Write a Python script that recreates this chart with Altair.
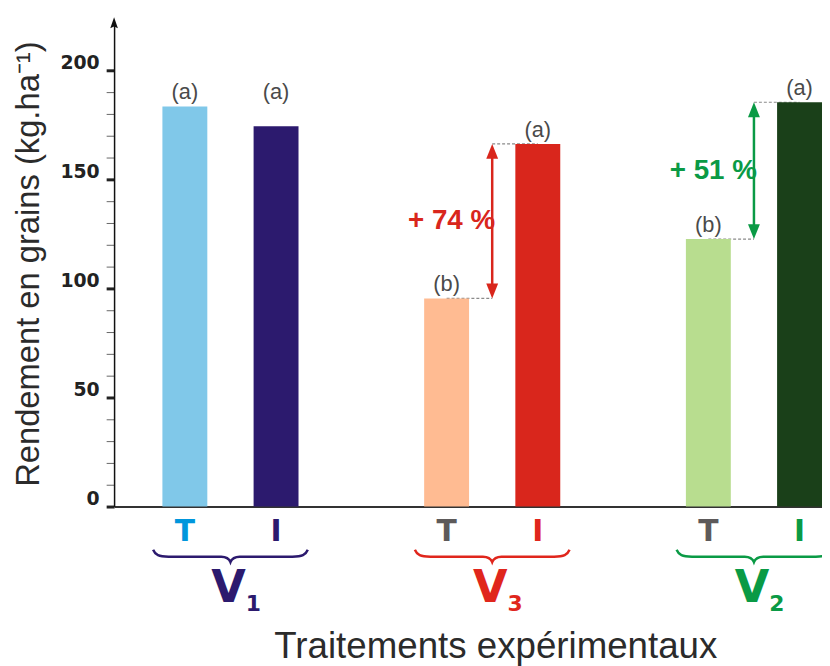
import altair as alt
import pandas as pd

# ---- data ----
groups = ["V1", "V1", "V3", "V3", "V2", "V2"]
treatments = ["T", "I", "T", "I", "T", "I"]
yields = [183.6, 174.5, 95.5, 166.4, 122.7, 185.5]
letters = ["(a)", "(a)", "(b)", "(a)", "(b)", "(a)"]
letter_levels = [183.6, 183.6, 95.5, 166.4, 122.7, 185.5]
bar_colors = ["#80c8e9", "#2c1a6e", "#ffbb92", "#d9261c", "#b8dd8f", "#1a4019"]
treat_label_colors = ["#0096dc", "#2c1a6e", "#5d5a5a", "#e0261c", "#5d5a5a", "#0a9a45"]

group_order = ["V1", "V3", "V2"]
group_subs = ["1", "3", "2"]
group_colors = ["#2c1a6e", "#e0261c", "#0a9a45"]

gain_groups = ["V3", "V2"]
gain_texts = ["+ 74 %", "+ 51 %"]
gain_colors = ["#d9261c", "#0a9a45"]

y_ticks = list(range(0, 201, 10))

# ---- tables ----
bars = pd.DataFrame({
    "group": groups, "pos": treatments, "value": yields,
    "letter": letters, "letter_level": letter_levels,
    "bar_color": bar_colors, "label_color": treat_label_colors,
    "base": [0] * len(groups),
})

def val(g, t):
    return bars[(bars.group == g) & (bars.pos == t)].value.iloc[0]

gains = pd.DataFrame({
    "group": gain_groups,
    "pos": ["M"] * len(gain_groups),
    "low": [val(g, "T") for g in gain_groups],
    "high": [val(g, "I") for g in gain_groups],
    "text": gain_texts,
    "color": gain_colors,
})
gains["mid"] = (gains.low + gains.high) / 2

dash_rows = []
for g in gain_groups:
    lo, hi = val(g, "T"), val(g, "I")
    dash_rows += [
        {"group": g, "pos": "T", "level": lo, "seg": g + "lo"},
        {"group": g, "pos": "M", "level": lo, "seg": g + "lo"},
        {"group": g, "pos": "M", "level": hi, "seg": g + "hi"},
        {"group": g, "pos": "I", "level": hi, "seg": g + "hi"},
    ]
dashes = pd.DataFrame(dash_rows)

grp = pd.DataFrame({
    "group": group_order, "sub": group_subs, "color": group_colors,
    "base": [0] * len(group_order),
})

# ---- scales / axes ----
x_scale = alt.Scale(domain=group_order, paddingInner=0.48, paddingOuter=0.0923, align=1)
x_axis = alt.Axis(
    title="Traitements expérimentaux", labels=False, ticks=False, grid=False,
    domainColor="#333333", domainWidth=2,
    titleFont="Liberation Sans", titleFontSize=37, titleFontWeight="normal",
    titleColor="#2b2b2b", titleX=384.5, titleY=152, titleAlign="center",
    titleBaseline="alphabetic",
)
off_scale = alt.Scale(domain=["T", "M", "I"], paddingInner=0.015, paddingOuter=0)
y_scale = alt.Scale(domain=[0, 222], nice=False, zero=True)
y_axis = alt.Axis(
    title="Rendement en grains (kg.ha⁻¹)", values=y_ticks, grid=False,
    labelExpr="datum.value % 50 === 0 ? datum.label : ''",
    labelFont="DejaVu Sans", labelFontSize=19, labelFontWeight="bold",
    labelColor="#222222", labelPadding=7, labelBaseline="alphabetic", labelOffset=-2,
    tickSize=8,
    tickWidth=alt.condition("datum.value % 50 === 0", alt.value(3), alt.value(1)),
    tickColor=alt.condition("datum.value % 50 === 0", alt.value("#222222"), alt.value("#666666")),
    domainColor="#111111", domainWidth=1.5,
    titleFont="Liberation Sans", titleFontSize=33, titleFontWeight="normal",
    titleColor="#2b2b2b", titleX=-76, titleY=243, titleAngle=-90,
    titleAlign="center", titleBaseline="alphabetic",
)

def X():
    return alt.X("group:N", scale=x_scale, axis=x_axis, sort=group_order)

def XO(field):
    return alt.XOffset(f"{field}:N", scale=off_scale)

def Y(field):
    return alt.Y(f"{field}:Q", scale=y_scale, axis=y_axis)

# ---- layers ----
dash_layer = alt.Chart(dashes).mark_line(
    strokeDash=[3, 2], strokeWidth=1.2, color="#8a8a8a"
).encode(x=X(), xOffset=XO("pos"), y=Y("level"), detail="seg:N")

bar_layer = alt.Chart(bars).mark_bar().encode(
    x=X(), xOffset=XO("pos"), y=Y("value"),
    color=alt.Color("bar_color:N", scale=None),
)

letter_layer = alt.Chart(bars).mark_text(
    baseline="alphabetic", dy=-7, font="Liberation Sans", fontSize=22, color="#4a4a4a"
).encode(x=X(), xOffset=XO("pos"), y=Y("letter_level"), text="letter:N")

arrow_layer = alt.Chart(gains).mark_rule(
    strokeWidth=2.5, yOffset=-8, y2Offset=8
).encode(
    x=X(), xOffset=XO("pos"), y=Y("low"), y2="high:Q",
    color=alt.Color("color:N", scale=None),
)

head_up = alt.Chart(gains).mark_point(
    shape="M 0 0 L 0.4 1 L -0.4 1 Z", size=900, filled=True, opacity=1, strokeWidth=0
).encode(x=X(), xOffset=XO("pos"), y=Y("high"), color=alt.Color("color:N", scale=None))

head_down = alt.Chart(gains).mark_point(
    shape="M 0 0 L 0.4 -1 L -0.4 -1 Z", size=900, filled=True, opacity=1, strokeWidth=0
).encode(x=X(), xOffset=XO("pos"), y=Y("low"), color=alt.Color("color:N", scale=None))

gain_layer = alt.Chart(gains).mark_text(
    align="right", baseline="middle", dx=3, font="Liberation Sans",
    fontSize=28, fontWeight="bold"
).encode(
    x=X(), xOffset=XO("pos"), y=Y("mid"), text="text:N",
    color=alt.Color("color:N", scale=None),
)

treat_layer = alt.Chart(bars).mark_text(
    baseline="middle", dy=26, font="DejaVu Sans", fontSize=30, fontWeight="bold"
).encode(
    x=X(), xOffset=XO("pos"), y=Y("base"), text="pos:N",
    color=alt.Color("label_color:N", scale=None),
)

brace_path = ("M -1 -0.07 C -0.97 0.0 -0.93 0.02 -0.8 0.02 L -0.12 0.02 "
              "C -0.05 0.02 -0.02 0.04 0 0.09 C 0.02 0.04 0.05 0.02 0.12 0.02 "
              "L 0.8 0.02 C 0.93 0.02 0.97 0.0 1 -0.07")
brace_layer = alt.Chart(grp).mark_point(
    shape=brace_path, size=24336, filled=False, strokeWidth=2.5, opacity=1, yOffset=49
).encode(x=X(), y=Y("base"), color=alt.Color("color:N", scale=None))

v_layer = alt.Chart(grp).mark_text(
    baseline="middle", dx=-2, dy=82, font="DejaVu Sans", fontSize=45, fontWeight="bold"
).encode(x=X(), y=Y("base"), text=alt.value("V"), color=alt.Color("color:N", scale=None))

sub_layer = alt.Chart(grp).mark_text(
    baseline="middle", dx=23, dy=98, font="DejaVu Sans", fontSize=22, fontWeight="bold"
).encode(x=X(), y=Y("base"), text="sub:N", color=alt.Color("color:N", scale=None))

yarrow = alt.Chart(pd.DataFrame({"a": [0]})).mark_point(
    shape="M 0 -1 L 0.7 1 L 0 0.7 L -0.7 1 Z", size=121, filled=True,
    opacity=1, color="#111111", strokeWidth=0
).encode(x=alt.value(0), y=alt.value(0))

chart = alt.layer(
    dash_layer, bar_layer, letter_layer, arrow_layer, head_up, head_down,
    gain_layer, treat_layer, brace_layer, v_layer, sub_layer, yarrow
).properties(
    width=714, height=488,
    autosize=alt.AutoSizeParams(type="none"),
    padding={"left": 107, "top": 12, "right": 0, "bottom": 158},
).configure_view(stroke=None)

chart.save("out.html", embed_options={"renderer": "svg", "actions": False})
